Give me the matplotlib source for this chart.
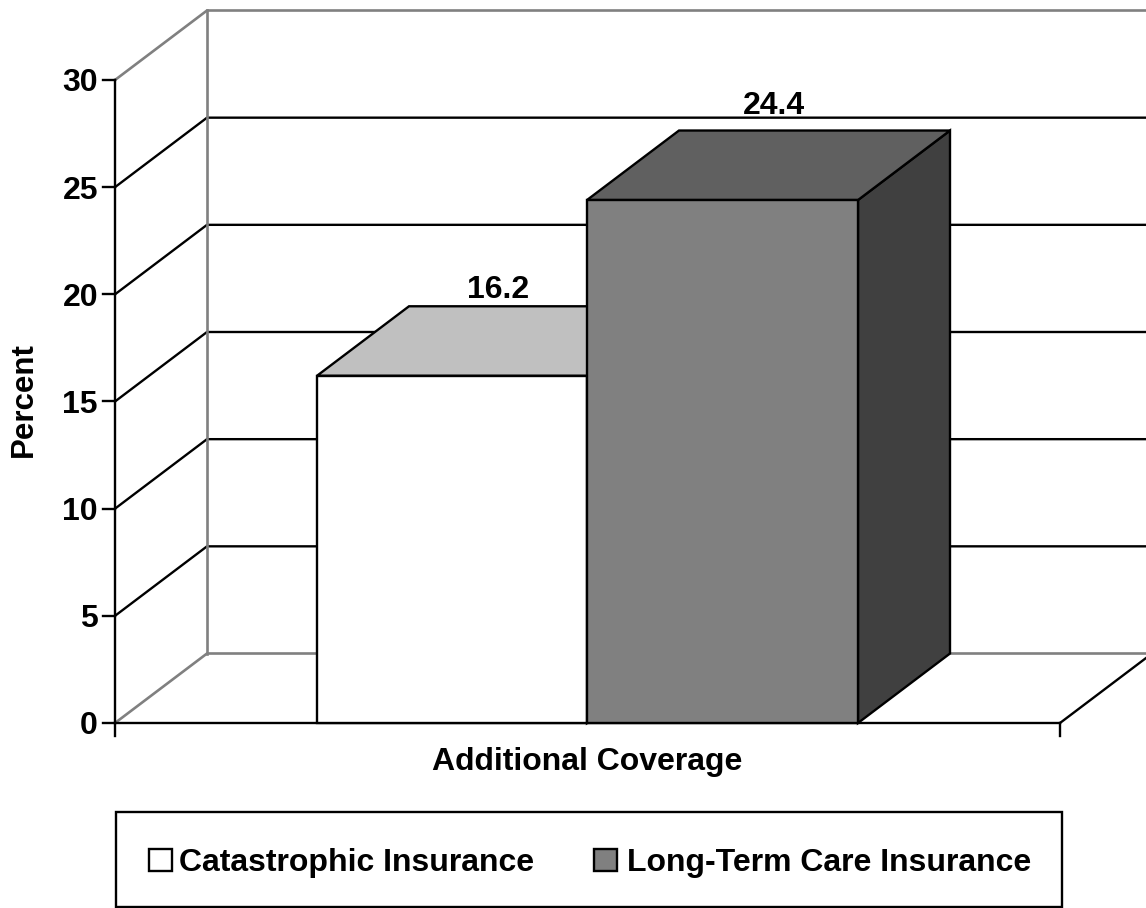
import matplotlib
matplotlib.use("Agg")
import matplotlib.pyplot as plt
from matplotlib.patches import Polygon, Rectangle

plt.rcParams['font.family'] = ['Liberation Sans', 'DejaVu Sans']
plt.rcParams['font.weight'] = 'bold'

labels = ["Catastrophic Insurance", "Long-Term Care Insurance"]
values = [16.2, 24.4]
yticks = [0, 5, 10, 15, 20, 25, 30]
front = ["#ffffff", "#808080"]
top = ["#c0c0c0", "#606060"]
side = ["#808080", "#404040"]

W, H = 1146, 908
fig = plt.figure(figsize=(W / 100, H / 100), dpi=100)

# one axes over the whole figure, scaled so that the plot box is 0..1 by 0..30
px_x = 945.0
px_y = 643 / 30
x0, y0 = 115, 723
ax = fig.add_axes([0, 0, 1, 1])
ax.set_xlim(-x0 / px_x, (W - x0) / px_x)
ax.set_ylim(-(H - y0) / px_y, y0 / px_y)
ax.axis("off")

# 3d depth of the floor, in data units
dx = 92 / px_x
dy = 69.5 / px_y
lw = 1.7
wall = "#808080"
right = (W - x0) / px_x

# walls
for t in yticks[1:-1]:
    ax.plot([0, dx, right], [t, t + dy, t + dy], color="k", lw=lw)
ax.plot([0, dx, right], [30, 30 + dy, 30 + dy], color=wall, lw=lw + 0.2)
ax.plot([0, dx, right], [0, dy, dy], color=wall, lw=lw + 0.2)
ax.plot([dx, dx], [dy, 30 + dy], color=wall, lw=lw + 0.2)
ax.plot([1, 1 + dx], [0, dy], color="k", lw=lw)

# axes lines and ticks
ax.plot([0, 0], [0, 30], color="k", lw=lw)
ax.plot([0, 1], [0, 0], color="k", lw=lw)
for t in yticks:
    ax.plot([-12 / px_x, 0], [t, t], color="k", lw=lw)
    ax.text(-17 / px_x, t, str(t), ha="right", va="center_baseline", fontsize=23)
for e in [0, 1]:
    ax.plot([e, e], [0, -13 / px_y], color="k", lw=lw)

# bars
bar_left = [202 / px_x, 472 / px_x]
bar_w = [270 / px_x, 271 / px_x]
label_dx = [0, 5.5]
label_dy = [8, 17]
for left, w, v, f, t, s, ldx, ldy in zip(bar_left, bar_w, values, front, top, side, label_dx, label_dy):
    ax.add_patch(Polygon([(left + w, 0), (left + w + dx, dy), (left + w + dx, v + dy), (left + w, v)],
                         fc=s, ec="k", lw=lw, zorder=3))
    ax.add_patch(Polygon([(left, v), (left + dx, v + dy), (left + w + dx, v + dy), (left + w, v)],
                         fc=t, ec="k", lw=lw, zorder=3))
    ax.add_patch(Rectangle((left, 0), w, v, fc=f, ec="k", lw=lw, zorder=4))
    ax.text(left + w / 2 + dx / 2 + ldx / px_x, v + dy + ldy / px_y, f"{v}", ha="center", va="baseline", fontsize=23, zorder=5)

# titles
ax.text(-91 / px_x, 15.1, "Percent", rotation=90, ha="center", va="center", fontsize=22.5)
ax.text(472 / px_x, -39 / px_y, "Additional Coverage", ha="center", va="center", fontsize=23)

# legend box
ax.add_patch(Rectangle((1 / px_x, -184 / px_y), 946 / px_x, 95 / px_y, fc="w", ec="k", lw=lw))
for kx, tx, c, lab in zip([34, 479], [64, 512], front, labels):
    ax.add_patch(Rectangle((kx / px_x, -148 / px_y), 23 / px_x, 22 / px_y, fc=c, ec="k", lw=lw))
    ax.text(tx / px_x, -148 / px_y, lab, ha="left", va="baseline", fontsize=23)

fig.savefig("out.png", dpi=100)
